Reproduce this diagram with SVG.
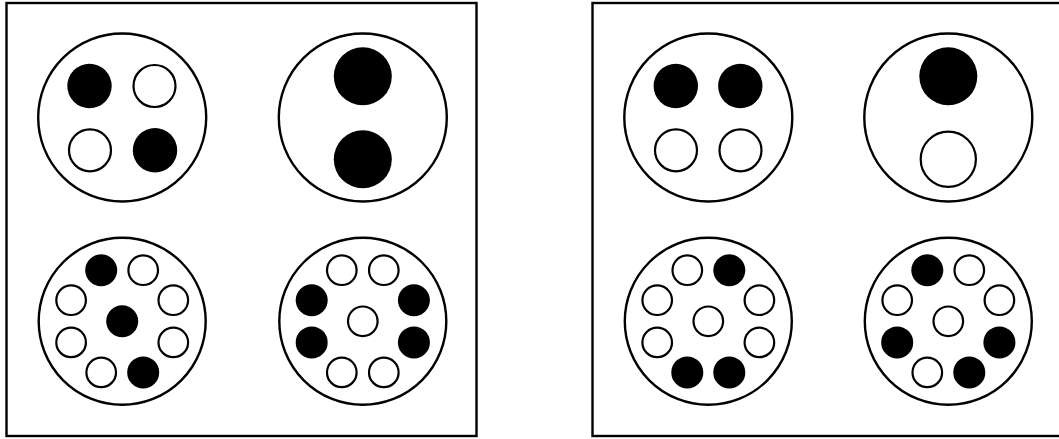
<svg xmlns="http://www.w3.org/2000/svg" width="1059" height="439" viewBox="0 0 1059 439">
<style>
.frame{fill:#fff;stroke:#000;stroke-width:2.4}
.big{fill:#fff;stroke:#000;stroke-width:2.4}
.f{fill:#000;stroke:none}
.o{fill:#fff;stroke:#000;stroke-width:2.2}
</style>
<rect width="1059" height="439" fill="#fff"/>
<g id="panel-left">
<rect class="frame" x="6.5" y="3" width="470" height="433"/>
<g id="L-tl">
<circle class="big" cx="122.2" cy="117.5" r="84"/>
<circle class="f" cx="89.5" cy="86" r="22.2"/>
<circle class="o" cx="154.5" cy="86" r="21"/>
<circle class="o" cx="90" cy="150.3" r="21"/>
<circle class="f" cx="155" cy="150.3" r="22.2"/>
</g>
<g id="L-tr">
<circle class="big" cx="362.8" cy="117.5" r="84"/>
<circle class="f" cx="362.8" cy="76.3" r="29"/>
<circle class="f" cx="362.8" cy="159.3" r="29"/>
</g>
<g id="L-bl">
<circle class="big" cx="122.2" cy="321.3" r="83.5"/>
<circle class="f" cx="101.2" cy="270.2" r="16"/>
<circle class="o" cx="143.2" cy="270.2" r="14.8"/>
<circle class="o" cx="71.1" cy="300.2" r="14.8"/>
<circle class="o" cx="173.3" cy="300.2" r="14.8"/>
<circle class="f" cx="122.2" cy="321.3" r="16"/>
<circle class="o" cx="71.1" cy="342.4" r="14.8"/>
<circle class="o" cx="173.3" cy="342.4" r="14.8"/>
<circle class="o" cx="101.2" cy="372.4" r="14.8"/>
<circle class="f" cx="143.2" cy="372.4" r="16"/>
</g>
<g id="L-br">
<circle class="big" cx="362.8" cy="321.3" r="83.5"/>
<circle class="o" cx="341.8" cy="270.2" r="14.8"/>
<circle class="o" cx="383.8" cy="270.2" r="14.8"/>
<circle class="f" cx="311.7" cy="300.2" r="16"/>
<circle class="f" cx="413.9" cy="300.2" r="16"/>
<circle class="o" cx="362.8" cy="321.3" r="14.8"/>
<circle class="f" cx="311.7" cy="342.4" r="16"/>
<circle class="f" cx="413.9" cy="342.4" r="16"/>
<circle class="o" cx="341.8" cy="372.4" r="14.8"/>
<circle class="o" cx="383.8" cy="372.4" r="14.8"/>
</g>
</g>
<g id="panel-right">
<rect class="frame" x="592.5" y="3" width="470" height="433"/>
<g id="R-tl">
<circle class="big" cx="708.3" cy="117.5" r="84"/>
<circle class="f" cx="675.8" cy="86" r="22.2"/>
<circle class="f" cx="740.3" cy="86" r="22.2"/>
<circle class="o" cx="676" cy="150.3" r="21"/>
<circle class="o" cx="740.5" cy="150.3" r="21"/>
</g>
<g id="R-tr">
<circle class="big" cx="948.3" cy="117.5" r="84"/>
<circle class="f" cx="948.3" cy="76.3" r="29"/>
<circle class="o" cx="948.3" cy="159.3" r="27.6"/>
</g>
<g id="R-bl">
<circle class="big" cx="708.3" cy="321.3" r="83.5"/>
<circle class="o" cx="687.3" cy="270.2" r="14.8"/>
<circle class="f" cx="729.3" cy="270.2" r="16"/>
<circle class="o" cx="657.2" cy="300.2" r="14.8"/>
<circle class="o" cx="759.4" cy="300.2" r="14.8"/>
<circle class="o" cx="708.3" cy="321.3" r="14.8"/>
<circle class="o" cx="657.2" cy="342.4" r="14.8"/>
<circle class="o" cx="759.4" cy="342.4" r="14.8"/>
<circle class="f" cx="687.3" cy="372.4" r="16"/>
<circle class="f" cx="729.3" cy="372.4" r="16"/>
</g>
<g id="R-br">
<circle class="big" cx="948.3" cy="321.3" r="83.5"/>
<circle class="f" cx="927.3" cy="270.2" r="16"/>
<circle class="o" cx="969.3" cy="270.2" r="14.8"/>
<circle class="o" cx="897.2" cy="300.2" r="14.8"/>
<circle class="o" cx="999.4" cy="300.2" r="14.8"/>
<circle class="o" cx="948.3" cy="321.3" r="14.8"/>
<circle class="f" cx="897.2" cy="342.4" r="16"/>
<circle class="f" cx="999.4" cy="342.4" r="16"/>
<circle class="o" cx="927.3" cy="372.4" r="14.8"/>
<circle class="f" cx="969.3" cy="372.4" r="16"/>
</g>
</g>
</svg>
